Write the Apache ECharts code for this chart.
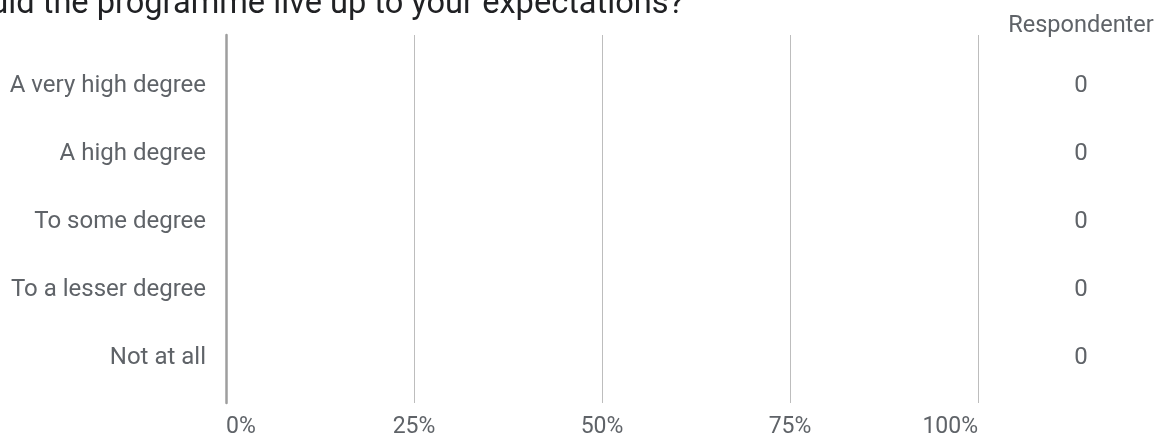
<!DOCTYPE html>
<html>
<head>
<meta charset="utf-8">
<script src="https://cdn.jsdelivr.net/npm/echarts@6/dist/echarts.min.js"></script>
<style>
html,body{margin:0;padding:0;background:#fff;}
#chart{width:1158px;height:439px;}
</style>
</head>
<body>
<div id="chart"></div>
<script>
const titleText = 'did the programme live up to your expectations?';
const countHeader = 'Respondenter';
const categories = ['A very high degree', 'A high degree', 'To some degree', 'To a lesser degree', 'Not at all'];
const percentValues = [0, 0, 0, 0, 0];
const counts = [0, 0, 0, 0, 0];
const tickMin = 0, tickMax = 100, tickStep = 25;

const FONT = 'Roboto, "Noto Sans", sans-serif';
const chart = echarts.init(document.getElementById('chart'));
chart.setOption({
  animation: false,
  textStyle: { fontFamily: FONT },
  graphic: [
    { type: 'text', left: -10, top: -12, style: { text: titleText, font: '32.6px ' + FONT, fill: '#202124' } },
    { type: 'text', x: 1081, y: 26, style: { text: countHeader, font: '23.5px ' + FONT, fill: '#5f6368', align: 'center', verticalAlign: 'middle' } }
  ],
  grid: [
    { left: 226, right: 180, top: 35, bottom: 36 },
    { left: 226, right: 180, top: 52, bottom: 47 }
  ],
  xAxis: [
    {
      gridIndex: 0, type: 'value', min: tickMin, max: tickMax, interval: tickStep,
      axisLine: { show: false }, axisTick: { show: false },
      splitLine: { show: true, lineStyle: { color: '#bdbdbd', width: 1 } },
      axisLabel: { formatter: '{value}%', fontSize: 23, color: '#5f6368', margin: 13, alignMinLabel: 'left', alignMaxLabel: 'right', fontFamily: FONT }
    },
    { gridIndex: 1, type: 'value', min: tickMin, max: tickMax, show: false }
  ],
  yAxis: [
    {
      gridIndex: 0, type: 'category', data: categories, inverse: true,
      axisLine: { show: true, lineStyle: { color: '#9e9e9e', width: 2.5 } },
      axisTick: { show: false }, axisLabel: { show: false }, splitLine: { show: false }
    },
    {
      gridIndex: 1, type: 'category', data: categories, inverse: true,
      axisLine: { show: false }, axisTick: { show: false },
      axisLabel: { fontSize: 24, color: '#5f6368', margin: 20, fontFamily: FONT }
    },
    {
      gridIndex: 1, type: 'category', position: 'right', data: counts.map(String), inverse: true,
      axisLine: { show: false }, axisTick: { show: false },
      axisLabel: { fontSize: 24, color: '#5f6368', margin: 103, align: 'center', fontFamily: FONT }
    }
  ],
  series: [
    { type: 'bar', xAxisIndex: 1, yAxisIndex: 1, data: percentValues, barWidth: 30, itemStyle: { color: '#4285f4' } }
  ]
});
</script>
</body>
</html>
